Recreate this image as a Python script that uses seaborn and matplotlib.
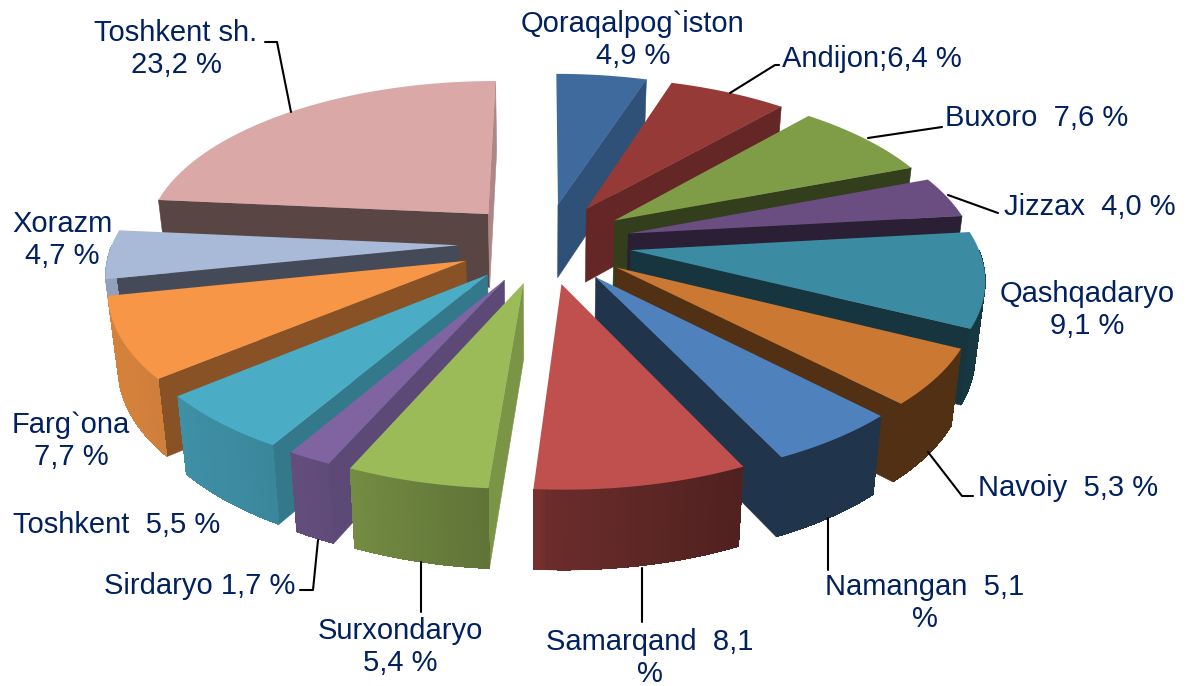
import numpy as np
import matplotlib
matplotlib.use("Agg")
import matplotlib.pyplot as plt
import matplotlib.colors as mc
import seaborn as sns

regions = ["Qoraqalpog`iston", "Andijon", "Buxoro", "Jizzax", "Qashqadaryo", "Navoiy", "Namangan",
           "Samarqand", "Surxondaryo", "Sirdaryo", "Toshkent", "Farg`ona", "Xorazm", "Toshkent sh."]
shares = [4.9, 6.4, 7.6, 4.0, 9.1, 5.3, 5.1, 8.1, 5.4, 1.7, 5.5, 7.7, 4.7, 23.2]
top_colors = ["#3E6A9E", "#963A38", "#7F9C47", "#6A4E82", "#3B8CA3", "#CA7832", "#4F81BD",
              "#C0504D", "#9BBB59", "#8064A2", "#4BACC6", "#F79646", "#A9BAD9", "#D9A8A7"]
label_texts = ["Qoraqalpog`iston\n4,9 %", "Andijon;6,4 %", "Buxoro  7,6 %", "Jizzax  4,0 %",
               "Qashqadaryo\n9,1 %", "Navoiy  5,3 %", "Namangan  5,1\n%", "Samarqand  8,1\n%",
               "Surxondaryo\n5,4 %", "Sirdaryo 1,7 %", "Toshkent  5,5 %", "Farg`ona\n7,7 %",
               "Xorazm\n4,7 %", "Toshkent sh.\n23,2 %"]
label_pos = [(633, 40), (872, 59), (1037, 118), (1090, 207), (1087, 310), (1068, 488), (925, 603),
             (650, 658), (400, 647), (200, 586), (117, 525), (71, 441), (62, 240), (176, 49)]
leaders = [None, [(730, 93), (775, 65), (779, 65)], [(868, 138), (942, 127)], [(948, 195), (998, 213)],
           None, [(928, 452), (962, 496), (973, 496)], [(828, 518), (828, 570)], [(642, 568), (642, 622)],
           [(421, 562), (421, 612)], [(318, 540), (313, 590), (300, 590)], None, None, None,
           [(291, 112), (277, 42), (265, 42)]]

CX, CY, A, B, C, K, EXPLODE, TAPER = 545, 243, 161, 346, 74, 0.15, 0.25, 0.023
TEXT = "#002060"


def project(x, y, z):
    s = 1 / (1 + K * y)
    return CX + B * x * s * (1 + TAPER * z), CY - A * y * s - C * s ** 0.4 * z


def shade(color, f):
    return tuple(np.array(mc.to_rgb(color)) * f)


def radial_factor(a):
    return np.interp(a % 360, [93, 108, 120, 131, 140, 158, 173, 185, 206, 225, 243, 300],
                     [.8, .75, .7, .67, .55, .4, .4, .41, .38, .4, .4, .4])


def wall_factor(a):
    return np.interp(a % 360, [90, 153, 182.9, 183, 203, 215, 240, 270],
                     [.4, .40, .56, .61, .74, .80, .86, .86])


sns.set_theme(style="white")
plt.rcParams["font.family"] = ["Liberation Sans", "DejaVu Sans"]
fig, ax = plt.subplots(figsize=(11.88, 6.86), dpi=100)
ax.set_position([0, 0, 1, 1])
ax.set_xlim(0, 1188)
ax.set_ylim(686, 0)
ax.axis("off")

values = np.array(shares)
edges = np.concatenate([[0], np.cumsum(values) / values.sum() * 360])
slices = []
for i in range(len(values)):
    mid = np.radians((edges[i] + edges[i + 1]) / 2)
    ox, oy = EXPLODE * np.sin(mid), EXPLODE * np.cos(mid)
    slices.append((oy + 0.55 * np.cos(mid), i, ox, oy))

for _, i, ox, oy in sorted(slices, reverse=True):
    a0, a1 = edges[i], edges[i + 1]
    color = top_colors[i]
    th = np.radians(np.linspace(a0, a1, int((a1 - a0) * 2) + 2))
    rx, ry = ox + np.sin(th), oy + np.cos(th)
    # radial cut faces that look towards the viewer
    for ang, normal in ((a0, (a0 - 90) % 360), (a1, (a1 + 90) % 360)):
        if not 89.99 <= normal < 269.99:
            continue
        th_e = np.radians(ang)
        ex, ey = ox + np.sin(th_e), oy + np.cos(th_e)
        quad = [project(ox, oy, 0), project(ex, ey, 0), project(ex, ey, -1), project(ox, oy, -1)]
        c = shade(color, radial_factor(normal))
        ax.fill(*zip(*quad), facecolor=c, edgecolor=c, lw=0.4, zorder=2)
    # front part of the outer wall, in short steps for its gradient
    lo, hi = max(a0, 90), min(a1, 270)
    if hi > lo:
        wall_deg = np.linspace(lo, hi, int((hi - lo) * 2) + 2)
        wall = np.radians(wall_deg)
        wx, wy = ox + np.sin(wall), oy + np.cos(wall)
        outline = [project(x, y, 0) for x, y in zip(wx, wy)] + [project(x, y, -1) for x, y in zip(wx[::-1], wy[::-1])]
        ax.fill(*zip(*outline), color=shade(color, wall_factor((lo + hi) / 2)), lw=0.3, zorder=2)
        for j in range(len(wall) - 1):
            quad = [project(wx[j], wy[j], 0), project(wx[j + 1], wy[j + 1], 0),
                    project(wx[j + 1], wy[j + 1], -1), project(wx[j], wy[j], -1)]
            ax.fill(*zip(*quad), color=shade(color, wall_factor((wall_deg[j] + wall_deg[j + 1]) / 2)),
                    lw=0, antialiased=False, zorder=2)
    top = [project(ox, oy, 0)] + [project(x, y, 0) for x, y in zip(rx, ry)]
    ax.fill(*zip(*top), color=color, lw=0, zorder=2)

for t, (x, y) in zip(label_texts, label_pos):
    ax.text(x, y, t, color=TEXT, fontsize=21, ha="center", va="center", linespacing=1.17, zorder=5)
for line in leaders:
    if line:
        ax.plot(*zip(*line), color="black", lw=1.5, zorder=4)

fig.savefig("out.png", dpi=100, facecolor="white")
